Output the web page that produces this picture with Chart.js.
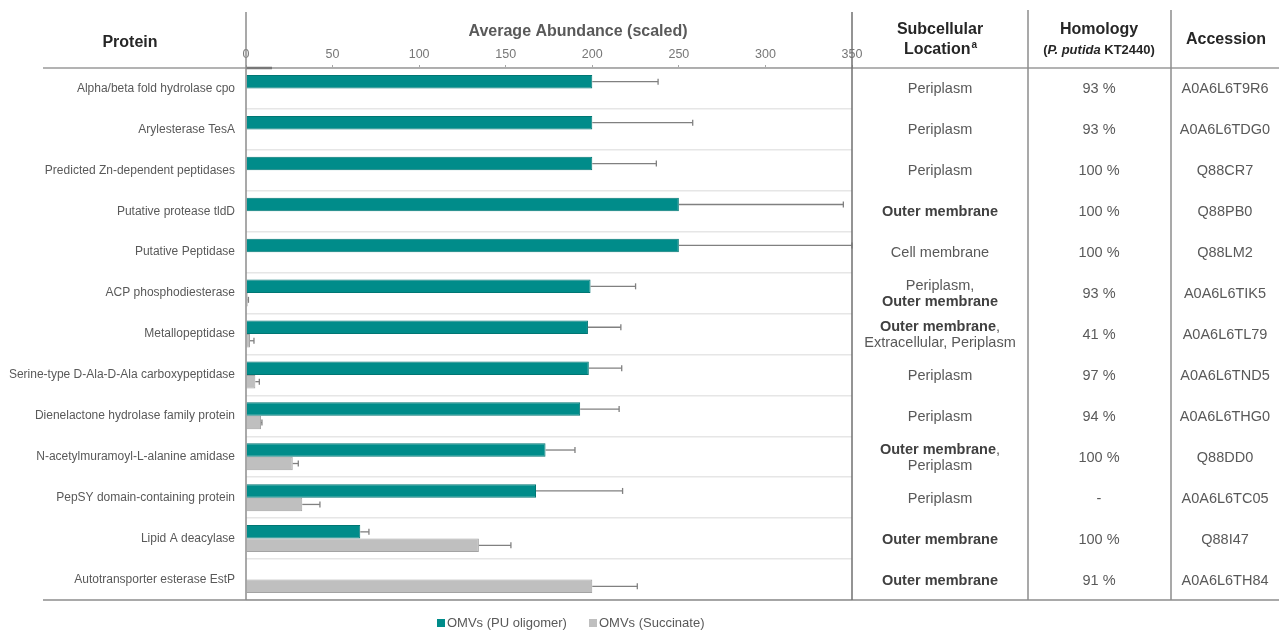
<!DOCTYPE html>
<html lang="en">
<head>
<meta charset="UTF-8">
<title>OMV proteins</title>
<style>
    body { margin: 0; background: #fff; }
    .chartBox { width: 1279px; height: 631px; position: relative; }
</style>
</head>
<body>
<div class="chartBox"><canvas id="myChart"></canvas></div>

<script src="https://cdn.jsdelivr.net/npm/chart.js/dist/chart.umd.min.js"></script>
<script>
    const proteins = [
        'Alpha/beta fold hydrolase cpo',
        'Arylesterase TesA',
        'Predicted Zn-dependent peptidases',
        'Putative protease tldD',
        'Putative Peptidase',
        'ACP phosphodiesterase',
        'Metallopeptidase',
        'Serine-type D-Ala-D-Ala carboxypeptidase',
        'Dienelactone hydrolase family protein',
        'N-acetylmuramoyl-L-alanine amidase',
        'PepSY domain-containing protein',
        'Lipid A deacylase',
        'Autotransporter esterase EstP'
    ];

    // average abundance (scaled) and the + error for each condition
    const puOligomer = [200, 200, 200, 250, 250, 199, 197.5, 198, 193, 173, 167.5, 66, null];
    const puOligomerErr = [38, 58, 37, 95, 100, 26, 19, 19, 22.5, 17, 50, 5, null];
    const succinate = [null, null, null, null, null, 1, 2.3, 5.4, 8.7, 27, 32.5, 134.5, 200];
    const succinateErr = [null, null, null, null, null, 0.4, 2.3, 2.3, 0.5, 3.2, 10.2, 18.5, 26];

    const xTicks = [0, 50, 100, 150, 200, 250, 300, 350];

    // table columns, ** marks bold text
    const locations = [
        ['Periplasm'],
        ['Periplasm'],
        ['Periplasm'],
        ['**Outer membrane**'],
        ['Cell membrane'],
        ['Periplasm,', '**Outer membrane**'],
        ['**Outer membrane**,', 'Extracellular, Periplasm'],
        ['Periplasm'],
        ['Periplasm'],
        ['**Outer membrane**,', 'Periplasm'],
        ['Periplasm'],
        ['**Outer membrane**'],
        ['**Outer membrane**']
    ];
    const homology = ['93 %', '93 %', '100 %', '100 %', '100 %', '93 %', '41 %', '97 %', '94 %', '100 %', '-', '100 %', '91 %'];
    const accession = ['A0A6L6T9R6', 'A0A6L6TDG0', 'Q88CR7', 'Q88PB0', 'Q88LM2', 'A0A6L6TIK5', 'A0A6L6TL79',
        'A0A6L6TND5', 'A0A6L6THG0', 'Q88DD0', 'A0A6L6TC05', 'Q88I47', 'A0A6L6TH84'];

    const FONT = '"Liberation Sans", Arial, sans-serif';
    const errors = [puOligomerErr, succinateErr];

    function drawRich(c, line, cx, y, size, color, boldColor) {
        const parts = line.split('**');
        let total = 0;
        parts.forEach((p, i) => {
            c.font = (i % 2 ? 'bold ' : '') + size + 'px ' + FONT;
            total += c.measureText(p).width;
        });
        let x = cx - total / 2;
        c.textAlign = 'left';
        parts.forEach((p, i) => {
            c.font = (i % 2 ? 'bold ' : '') + size + 'px ' + FONT;
            c.fillStyle = i % 2 ? boldColor : color;
            c.fillText(p, x, y);
            x += c.measureText(p).width;
        });
    }

    function line(c, x1, y1, x2, y2, color, w) {
        c.beginPath();
        c.strokeStyle = color;
        c.lineWidth = w;
        c.moveTo(x1, y1);
        c.lineTo(x2, y2);
        c.stroke();
    }

    // one-sided error bars at the end of every bar
    const errorBars = {
        id: 'errorBars',
        afterDatasetsDraw(chart) {
            const c = chart.ctx;
            const xs = chart.scales.x;
            c.save();
            chart.data.datasets.forEach((ds, d) => {
                chart.getDatasetMeta(d).data.forEach((bar, i) => {
                    const v = ds.data[i];
                    const e = errors[d][i];
                    if (v == null || e == null) return;
                    const x0 = xs.getPixelForValue(v);
                    const x1 = xs.getPixelForValue(v + e);
                    line(c, x0, bar.y, x1, bar.y, '#808080', 1.3);
                    line(c, x1, bar.y - 3, x1, bar.y + 3, '#808080', 1.3);
                });
            });
            c.restore();
        }
    };

    // table frame, headers, columns and legend
    const tablePlugin = {
        id: 'tablePlugin',
        afterDraw(chart) {
            const c = chart.ctx;
            const ys = chart.scales.y;
            const area = chart.chartArea;
            c.save();

            line(c, 43, area.top, 1279, area.top, '#9a9a9a', 1.5);
            line(c, area.left, area.top, area.left + 26, area.top, '#777', 2.5);
            line(c, 43, area.bottom, 1279, area.bottom, '#8c8c8c', 1.5);
            line(c, area.left, 12, area.left, area.bottom, '#8c8c8c', 1.5);
            line(c, area.right, 12, area.right, area.bottom, '#707070', 1.5);
            line(c, 1028, 10, 1028, area.bottom, '#8c8c8c', 1.5);
            line(c, 1171, 10, 1171, area.bottom, '#8c8c8c', 1.5);

            c.textBaseline = 'middle';
            c.textAlign = 'center';
            c.fillStyle = '#262626';
            c.font = 'bold 16px ' + FONT;
            c.fillText('Protein', 130, 43);
            c.fillText('Subcellular', 940, 30);
            c.fillText('Homology', 1099, 30);
            c.fillText('Accession', 1226, 40);

            // Location with superscript a
            const lw = c.measureText('Location').width;
            c.font = 'bold 10px ' + FONT;
            const aw = c.measureText('a').width;
            c.textAlign = 'left';
            c.font = 'bold 16px ' + FONT;
            c.fillText('Location', 940 - (lw + aw) / 2, 50);
            c.font = 'bold 10px ' + FONT;
            c.fillText('a', 940 - (lw + aw) / 2 + lw + 1, 45);

            // (P. putida KT2440)
            const segs = [['(', 'bold '], ['P. putida', 'italic bold '], [' KT2440)', 'bold ']];
            let tw = 0;
            segs.forEach(s => { c.font = s[1] + '13px ' + FONT; tw += c.measureText(s[0]).width; });
            let sx = 1099 - tw / 2;
            segs.forEach(s => {
                c.font = s[1] + '13px ' + FONT;
                c.fillText(s[0], sx, 50);
                sx += c.measureText(s[0]).width;
            });

            c.fillStyle = '#595959';
            c.font = 'bold 16px ' + FONT;
            c.textAlign = 'center';
            c.fillText('Average Abundance (scaled)', 578, 32);

            proteins.forEach((p, i) => {
                const yc = ys.getPixelForValue(i) + 1;
                const rows = locations[i];
                rows.forEach((t, k) => {
                    const yy = yc + (k - (rows.length - 1) / 2) * 16;
                    drawRich(c, t, 940, yy, 14.5, '#595959', '#404040');
                });
                c.textAlign = 'center';
                c.fillStyle = '#595959';
                c.font = '14.5px ' + FONT;
                c.fillText(homology[i], 1099, yc);
                c.fillText(accession[i], 1225, yc);
            });

            // legend
            let lx = 437;
            chart.data.datasets.forEach(ds => {
                c.fillStyle = ds.backgroundColor;
                c.fillRect(lx, 619, 8, 8);
                c.fillStyle = '#595959';
                c.font = '13px ' + FONT;
                c.textAlign = 'left';
                c.fillText(ds.label, lx + 10, 623);
                lx += 152;
            });

            c.restore();
        }
    };

    const ctx = document.getElementById('myChart');

    new Chart(ctx, {
        type: 'bar',
        data: {
            labels: proteins,
            datasets: [{
                label: 'OMVs (PU oligomer)',
                data: puOligomer,
                backgroundColor: '#008c8a',
                borderColor: '#007673',
                borderWidth: 1
            }, {
                label: 'OMVs (Succinate)',
                data: succinate,
                backgroundColor: '#bfbfbf',
                borderColor: '#a3a3a3',
                borderWidth: 1
            }]
        },
        options: {
            indexAxis: 'y',
            responsive: true,
            maintainAspectRatio: false,
            animation: false,
            layout: { padding: { left: 0, top: 0, right: 427, bottom: 31 } },
            datasets: { bar: { barPercentage: 1, categoryPercentage: 0.66 } },
            plugins: {
                legend: { display: false },
                tooltip: { enabled: false }
            },
            scales: {
                x: {
                    position: 'top',
                    min: 0,
                    max: 350,
                    afterBuildTicks: (scale) => { scale.ticks = xTicks.map(v => ({ value: v })); },
                    afterFit: (scale) => { scale.height = 68; },
                    grid: { drawOnChartArea: false, drawTicks: true, tickLength: 3, color: '#a6a6a6' },
                    border: { display: false },
                    ticks: { color: '#777', padding: 3, font: { family: FONT, size: 12.5 } }
                },
                y: {
                    afterFit: (scale) => { scale.width = 246; },
                    grid: { color: '#e6e6e6', lineWidth: 1.5, drawTicks: false, offset: true },
                    border: { display: false },
                    ticks: { color: '#595959', padding: 11, font: { family: FONT, size: 12 } }
                }
            }
        },
        plugins: [errorBars, tablePlugin]
    });
</script>
</body>
</html>
